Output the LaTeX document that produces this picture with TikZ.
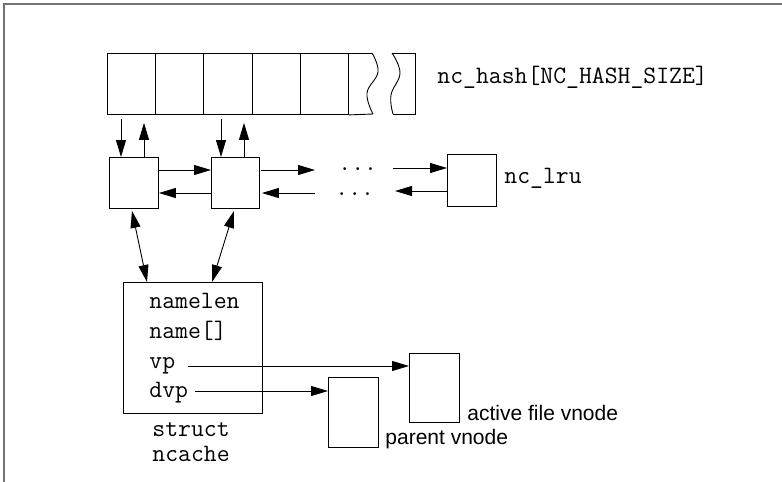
\documentclass[tikz,border=0pt]{standalone}
\usepackage{fontspec}
\setmainfont{Liberation Sans}
\usetikzlibrary{arrows.meta,calc}
\begin{document}
\begin{tikzpicture}[x=1pt,y=-1pt,
  line width=0.9pt,
  box/.style={draw, inner sep=0pt, anchor=north west},
  mono/.style={font=\ttfamily\fontsize{25}{25}\selectfont, inner sep=0pt, anchor=base west},
  lab/.style={font=\fontsize{21}{21}\selectfont, inner sep=0pt, anchor=base west},
  arr/.style={-{Triangle[length=17pt,width=10pt]}},
  darr/.style={{Triangle[length=17pt,width=10pt]}-{Triangle[length=17pt,width=10pt]}},
  frame/.style={line width=1.5pt, black!55}
]
\useasboundingbox (0,0) rectangle (782,482);
\draw[frame] (4,482) -- (4,4) -- (782,4);

% hash array
\foreach \i in {1,...,5}
  \node[box, minimum width=48.2pt, minimum height=61pt] (h\i) at ({107+48.2*(\i-1)},53) {};
\draw (h5.north east) -- (372,53);
\draw (h5.south east) -- (373,114);
\draw plot[smooth, tension=0.7] coordinates {(372,53) (378,72) (367,93) (373,114)};
\draw plot[smooth, tension=0.7] coordinates {(392,53) (400,73) (391,95) (393,114)};
\draw (392,53) -- (415,53) -- (415,114) -- (393,114);
\node[mono] (hashlbl) at (437,83) {nc\_hash[NC\_HASH\_SIZE]};

% lru boxes
\node[box, minimum width=49pt, minimum height=51pt] (l1) at (109,157) {};
\node[box, minimum width=48pt, minimum height=51pt] (l2) at (211,157) {};
\node[box, minimum width=49pt, minimum height=52pt] (lru) at (447,154) {};
\node[mono] (lrulbl) at (504,183) {nc\_lru};

\coordinate (a1) at (121,0);
\coordinate (b1) at (144,0);
\coordinate (a2) at (221,0);
\coordinate (b2) at (244,0);
\draw[arr, shorten <=4pt] (h1.south -| a1) -- (l1.north -| a1);
\draw[arr, shorten >=8pt] (l1.north -| b1) -- (h1.south -| b1);
\draw[arr, shorten <=4pt] (h3.south -| a2) -- (l2.north -| a2);
\draw[arr, shorten >=8pt] (l2.north -| b2) -- (h3.south -| b2);

\coordinate (r1) at (0,170);
\coordinate (r2) at (0,193);
\draw[arr] (l1.east |- r1) -- (l2.west |- r1);
\draw[arr] (l2.west |- r2) -- (l1.east |- r2);
\coordinate (e1) at (315,170);
\coordinate (e2) at (315,193);
\draw[arr] ([xshift=1pt]l2.east |- e1) -- (e1);
\draw[arr] (e2) -- ([xshift=2pt]l2.east |- e2);
\node[mono] (dots1) at (338,170) {...};
\node[mono] (dots2) at (335,195) {...};
\coordinate (e3) at (393,168);
\coordinate (e4) at (395,191);
\draw[arr] (e3) -- (lru.west |- e3);
\draw[arr] (lru.west |- e4) -- (e4);

% ncache
\node[box, minimum width=139pt, minimum height=131pt] (nc) at (123,282) {};
\draw[darr] ($(l1.south west)+(23,2)$) -- ($(nc.north west)+(24,0)$);
\draw[darr] ($(l2.south west)+(23,2)$) -- ($(nc.north west)+(89,0)$);
\node[mono] (f1) at (149,308) {namelen};
\node[mono] (f2) at (149,338) {name[]};
\node[mono] (f3) at (149,368) {vp};
\node[mono] (f4) at (149,397) {dvp};
\node[font=\ttfamily\fontsize{25}{25.5}\selectfont, align=center, inner sep=0pt, anchor=north] (st) at (191,422) {struct\\ncache};

% vnodes
\node[box, minimum width=50pt, minimum height=69pt] (act) at (409,353) {};
\node[box, minimum width=50pt, minimum height=70pt] (par) at (328,377) {};
\node[lab] (actlbl) at (467,420) {active file vnode};
\node[lab] (parlbl) at (385,444) {parent vnode};
\coordinate (vpa) at (188,366);
\coordinate (dvpa) at (195,391);
\draw[arr] (vpa) -- (act.west |- vpa);
\draw[arr] (dvpa) -- (par.west |- dvpa);
\end{tikzpicture}
\end{document}
